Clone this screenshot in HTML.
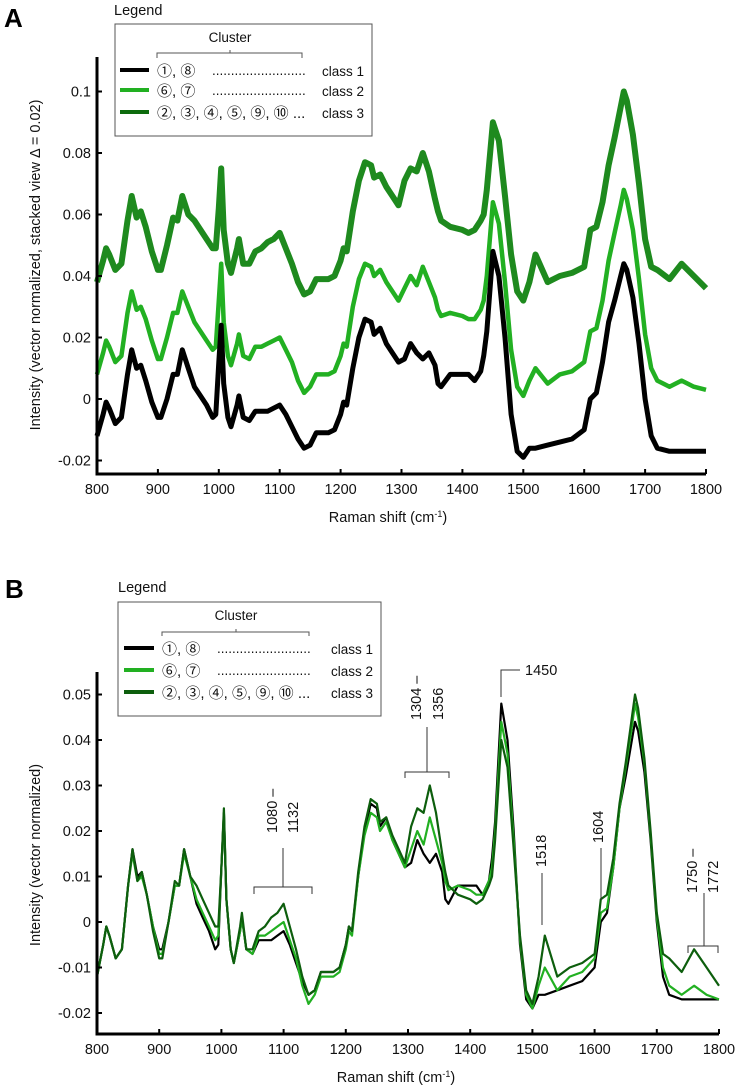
<!DOCTYPE html>
<html><head><meta charset="utf-8">
<style>
html,body{margin:0;padding:0;background:#fff;}
svg{display:block;font-family:"Liberation Sans","Noto Sans CJK JP",sans-serif;}
.t{font-size:14.5px;fill:#111;}
.lg{font-size:13.5px;fill:#111;}
.cn{font-size:15px;fill:#111;}
</style></head>
<body>
<svg id="fig" width="737" height="1087" viewBox="0 0 737 1087">
<text x="4" y="27" font-size="26" font-weight="bold">A</text>
<text x="114" y="15" class="t">Legend</text>
<g>
<rect x="115" y="24" width="257" height="112" fill="#fff" stroke="#555" stroke-width="1"/>
<text x="230" y="42" class="lg" text-anchor="middle">Cluster</text>
<path d="M157,58 V53 H302 V58 M230,53 V50" fill="none" stroke="#555"/>
<line x1="120" y1="70" x2="149" y2="70" stroke="#000" stroke-width="4"/>
<line x1="120" y1="90" x2="149" y2="90" stroke="#22b022" stroke-width="4"/>
<line x1="120" y1="112" x2="149" y2="112" stroke="#0d6b0d" stroke-width="4"/>
<text x="157" y="76" class="cn">①, ⑧</text><text x="212" y="75" class="lg">.........................</text><text x="322" y="76" class="lg">class 1</text>
<text x="157" y="96" class="cn">⑥, ⑦</text><text x="212" y="95" class="lg">.........................</text><text x="322" y="96" class="lg">class 2</text>
<text x="157" y="118" class="cn">②, ③, ④, ⑤, ⑨, ⑩ ...</text><text x="322" y="118" class="lg">class 3</text>
</g>
<text x="5" y="598" font-size="26" font-weight="bold">B</text>
<text x="118" y="592" class="t">Legend</text>
<g>
<rect x="118" y="602" width="263" height="114" fill="#fff" stroke="#555" stroke-width="1"/>
<text x="236" y="620" class="lg" text-anchor="middle">Cluster</text>
<path d="M162,636 V632 H309 V636 M236,632 V629" fill="none" stroke="#555"/>
<line x1="124" y1="648" x2="154" y2="648" stroke="#000" stroke-width="4"/>
<line x1="124" y1="670" x2="154" y2="670" stroke="#22b022" stroke-width="4"/>
<line x1="124" y1="692" x2="154" y2="692" stroke="#0d5e0d" stroke-width="4"/>
<text x="162" y="654" class="cn">①, ⑧</text><text x="217" y="653" class="lg">.........................</text><text x="331" y="654" class="lg">class 1</text>
<text x="162" y="676" class="cn">⑥, ⑦</text><text x="217" y="675" class="lg">.........................</text><text x="331" y="676" class="lg">class 2</text>
<text x="162" y="698" class="cn">②, ③, ④, ⑤, ⑨, ⑩ ...</text><text x="331" y="698" class="lg">class 3</text>
</g>
<g id="gA"></g><g id="gB"></g>
<g stroke="#333" fill="none" stroke-width="1">
<path d="M501,697 V670 H520"/>
<path d="M427,727 V772 M405,778 V772 H449 V778"/>
<path d="M283,848 V887 M254,894 V887 H312 V894"/>
<path d="M542,873 V925"/>
<path d="M601,848 V900"/>
<path d="M704,893 V946 M688,953 V946 H718 V953"/>
</g>
<g class="t">
<text x="525" y="675">1450</text>
<text transform="translate(421,720) rotate(-90)">1304 –</text>
<text transform="translate(443,720) rotate(-90)">1356</text>
<text transform="translate(277,833) rotate(-90)">1080 –</text>
<text transform="translate(298,833) rotate(-90)">1132</text>
<text transform="translate(546,867) rotate(-90)">1518</text>
<text transform="translate(603,843) rotate(-90)">1604</text>
<text transform="translate(697,893) rotate(-90)">1750 –</text>
<text transform="translate(718,893) rotate(-90)">1772</text>
</g>
</svg>
<script>
const wavenumbers=[800,810,815,820,830,840,850,857,865,872,880,890,900,905,915,925,932,940,950,960,970,980,990,995,1000,1004,1008,1015,1020,1030,1033,1040,1050,1060,1070,1080,1090,1100,1110,1120,1130,1140,1150,1160,1170,1180,1190,1200,1205,1210,1220,1230,1240,1250,1255,1265,1275,1285,1295,1305,1315,1325,1335,1345,1355,1360,1365,1380,1400,1410,1420,1430,1435,1440,1450,1460,1470,1480,1490,1500,1510,1520,1540,1560,1580,1600,1610,1620,1630,1640,1650,1660,1665,1670,1680,1690,1700,1710,1720,1740,1760,1780,1800];
const class1=[-0.012,-0.005,-0.001,-0.003,-0.008,-0.006,0.008,0.016,0.010,0.011,0.006,-0.001,-0.006,-0.006,0.000,0.008,0.008,0.016,0.010,0.004,0.001,-0.002,-0.006,-0.005,0.012,0.024,0.005,-0.006,-0.009,-0.002,0.001,-0.006,-0.007,-0.004,-0.004,-0.004,-0.003,-0.002,-0.005,-0.009,-0.013,-0.016,-0.015,-0.011,-0.011,-0.011,-0.010,-0.005,-0.001,-0.002,0.010,0.020,0.026,0.025,0.021,0.023,0.018,0.015,0.012,0.013,0.018,0.015,0.013,0.015,0.011,0.005,0.004,0.008,0.008,0.008,0.006,0.009,0.014,0.022,0.048,0.040,0.020,-0.005,-0.017,-0.019,-0.016,-0.016,-0.015,-0.014,-0.013,-0.010,0.000,0.002,0.012,0.025,0.032,0.040,0.044,0.042,0.033,0.018,0.000,-0.012,-0.016,-0.017,-0.017,-0.017,-0.017];
const class2=[-0.012,-0.005,-0.001,-0.003,-0.008,-0.006,0.008,0.015,0.009,0.010,0.006,-0.001,-0.007,-0.007,0.000,0.008,0.008,0.015,0.010,0.005,0.002,-0.001,-0.004,-0.003,0.012,0.024,0.005,-0.006,-0.009,-0.002,0.001,-0.006,-0.007,-0.003,-0.003,-0.002,-0.001,0.000,-0.004,-0.008,-0.014,-0.018,-0.016,-0.012,-0.012,-0.012,-0.011,-0.006,-0.002,-0.003,0.010,0.019,0.024,0.023,0.020,0.022,0.018,0.015,0.012,0.016,0.020,0.017,0.023,0.018,0.013,0.009,0.007,0.008,0.007,0.006,0.006,0.009,0.012,0.020,0.044,0.037,0.018,-0.004,-0.016,-0.019,-0.014,-0.010,-0.015,-0.012,-0.011,-0.008,0.002,0.003,0.012,0.025,0.034,0.043,0.048,0.045,0.035,0.019,0.001,-0.010,-0.014,-0.016,-0.014,-0.016,-0.017];
const class3=[-0.012,-0.005,-0.001,-0.003,-0.008,-0.006,0.008,0.016,0.009,0.011,0.006,-0.002,-0.008,-0.008,0.000,0.009,0.008,0.016,0.010,0.008,0.005,0.002,-0.001,-0.001,0.012,0.025,0.005,-0.006,-0.009,-0.001,0.002,-0.006,-0.006,-0.002,-0.001,0.001,0.002,0.004,-0.001,-0.006,-0.012,-0.016,-0.015,-0.011,-0.011,-0.011,-0.010,-0.005,-0.001,-0.002,0.011,0.021,0.027,0.026,0.022,0.023,0.019,0.016,0.013,0.021,0.025,0.024,0.030,0.024,0.015,0.011,0.008,0.006,0.005,0.004,0.005,0.008,0.010,0.018,0.040,0.034,0.016,-0.003,-0.015,-0.018,-0.012,-0.003,-0.012,-0.010,-0.009,-0.007,0.005,0.006,0.014,0.026,0.035,0.045,0.050,0.047,0.036,0.020,0.002,-0.007,-0.008,-0.011,-0.006,-0.010,-0.014];
const stackOffsets=[0,0.02,0.05];
const xTicks=[800,900,1000,1100,1200,1300,1400,1500,1600,1700,1800];
const yTicksA=[-0.02,0,0.02,0.04,0.06,0.08,0.1];
const yTickLabelsA=["-0.02","0","0.02","0.04","0.06","0.08","0.1"];
const yTicksB=[-0.02,-0.01,0,0.01,0.02,0.03,0.04,0.05];
const yTickLabelsB=["-0.02","-0.01","0","0.01","0.02","0.03","0.04","0.05"];

const NS="http://www.w3.org/2000/svg";
function mk(p,tag,attrs){const e=document.createElementNS(NS,tag);for(const k in attrs)e.setAttribute(k,attrs[k]);p.appendChild(e);return e;}
function panel(g,cfg){
  const xs=v=>cfg.x0+(v-800)*(cfg.x1-cfg.x0)/1000;
  const ys=v=>cfg.yZero-v*cfg.yPer;
  const series=[[class1,"#000",cfg.w1,"class-1-line"],[class2,"#22b022",cfg.w2,"class-2-line"],[class3,cfg.c3,cfg.w3,"class-3-line"]];
  cfg.order.forEach(i=>{
    const s=series[i];const off=cfg.stack?stackOffsets[i]:0;
    const d=wavenumbers.map((w,j)=>(j?"L":"M")+xs(w).toFixed(1)+","+ys(s[0][j]+off).toFixed(1)).join("");
    const p=mk(g,"path",{d:d,fill:"none",stroke:s[1],"stroke-width":s[2],"stroke-linejoin":"round"});
    
    
  });
  const ax=mk(g,"path",{d:`M${cfg.x0},${cfg.yTop} V${cfg.yBot} H${cfg.x1}`,fill:"none",stroke:"#000","stroke-width":3});
  
  
  xTicks.forEach(t=>{
    mk(g,"line",{x1:xs(t),x2:xs(t),y1:cfg.yBot,y2:cfg.yBot-5,stroke:"#000","stroke-width":2});
    const tx=mk(g,"text",{x:xs(t),y:cfg.yBot+20,"text-anchor":"middle",class:"t"});tx.textContent=t;
    
    
  });
  cfg.yt.forEach((t,i)=>{
    mk(g,"line",{x1:cfg.x0,x2:cfg.x0+5,y1:ys(t),y2:ys(t),stroke:"#000","stroke-width":2});
    const tx=mk(g,"text",{x:cfg.x0-6,y:ys(t)+5,"text-anchor":"end",class:"t"});tx.textContent=cfg.yl[i];
    
    
  });
  const xt=mk(g,"text",{x:cfg.xtx,y:cfg.xty,"text-anchor":"middle",class:"t"});
  xt.innerHTML='Raman shift (cm<tspan dy="-5" font-size="9">-1</tspan><tspan dy="5">)</tspan>';
  
  
  const yt=mk(g,"text",{transform:`translate(${cfg.ytx},${cfg.yty}) rotate(-90)`,"text-anchor":"middle",class:"t"});
  yt.textContent=cfg.ytitle;
  
  
}
panel(document.getElementById("gA"),{x0:97,x1:706,yZero:399,yPer:3075,yTop:57,yBot:474,stack:true,w1:5,w2:4.5,w3:6,c3:"#1e8a1e",order:[2,1,0],yt:yTicksA,yl:yTickLabelsA,xtx:388,xty:522,ytx:40,yty:265,ytitle:"Intensity (vector normalized, stacked view  Δ = 0.02)"});
panel(document.getElementById("gB"),{x0:97,x1:719,yZero:922,yPer:4550,yTop:672,yBot:1034,stack:false,w1:2.2,w2:2.2,w3:2.2,c3:"#0d5e0d",order:[0,1,2],yt:yTicksB,yl:yTickLabelsB,xtx:396,xty:1082,ytx:40,yty:855,ytitle:"Intensity (vector normalized)"});
document.getElementById("gA");
document.getElementById("gA");
document.getElementById("gB");
document.getElementById("gB");
</script>
</body></html>
